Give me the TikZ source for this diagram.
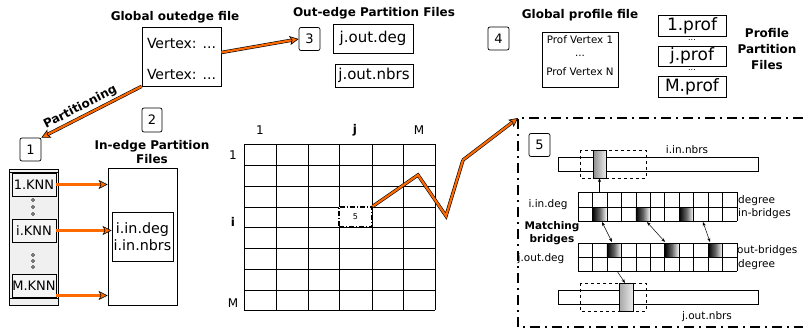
\documentclass[tikz,border=0pt]{standalone}
\usepackage{fontspec}
\setmainfont{DejaVu Sans}
\usetikzlibrary{arrows.meta,calc}
\definecolor{org}{HTML}{FF6A00}
\begin{document}
\begin{tikzpicture}[x=1pt,y=-1pt,
  box/.style={draw, line width=0.7pt, inner sep=0pt, fill=white},
  numbox/.style={draw, line width=0.7pt, rounded corners=2pt, inner sep=0pt, minimum width=21pt, minimum height=23pt, font=\fontsize{13}{13}\selectfont},
  title/.style={font=\fontsize{12}{14}\selectfont\bfseries, align=center, inner sep=0pt},
  txt/.style={inner sep=0pt},
  oarrow/.style={line width=0.6pt, double=org, double distance=2.2pt, -{Stealth[length=9pt,width=9pt,inset=2pt,color=black,fill=org,line width=0.6pt]}},
  oline/.style={line width=0.6pt, double=org, double distance=2.2pt},
  sm/.style={font=\fontsize{10.5}{12}\selectfont, inner sep=0pt},
  dd/.style={line width=2pt, dash pattern=on 10pt off 5pt on 2pt off 5pt},
  tiparrow/.style={-{Stealth[length=4pt,width=3pt]}, line width=0.5pt},
  bitiparrow/.style={{Stealth[length=4pt,width=3pt]}-{Stealth[length=4pt,width=3pt]}, line width=0.5pt},
]
\useasboundingbox (0,0) rectangle (803,329);

% ---------- Global outedge file ----------
\node[title] (tgout) at (175,17) {Global outedge file};
\node[box, minimum width=79pt, minimum height=59pt] (gout) at (181.5,56.5) {};
\node[txt, font=\fontsize{14}{14}\selectfont] (v1) at (181.5,43) {Vertex: ...};
\node[txt, font=\fontsize{14}{14}\selectfont] (v2) at (181.5,74) {Vertex: ...};

% ---------- Out-edge partition files ----------
\node[title] (tout) at (374,13) {Out-edge Partition Files};
\node[numbox] (n3) at (309.5,39) {3};
\node[box, minimum width=80pt, minimum height=29pt, font=\fontsize{15}{15}\selectfont] (jod) at (373,38.5) {j.out.deg};
\node[box, minimum width=78pt, minimum height=23pt, font=\fontsize{15}{15}\selectfont] (jon) at (374,75.5) {j.out.nbrs};

% ---------- Global profile file ----------
\node[title] (tprof) at (580,15) {Global profile file};
\node[numbox] (n4) at (498.5,38.5) {4};
\node[box, minimum width=76pt, minimum height=55pt] (gprof) at (580,59.5) {};
\node[txt, font=\fontsize{10.3}{10}\selectfont] (p1) at (580,40) {Prof Vertex 1};
\node[txt, font=\fontsize{10.3}{10}\selectfont] (p2) at (580,56) {...};
\node[txt, font=\fontsize{10.3}{10}\selectfont] (p3) at (580,72) {Prof Vertex N};

% ---------- Profile partition files ----------
\node[box, minimum width=68pt, minimum height=21pt, font=\fontsize{17}{17}\selectfont] (pr1) at (692,25.5) {1.prof};
\node[txt, font=\fontsize{8}{8}\selectfont] (pd1) at (692,40) {...};
\node[box, minimum width=68pt, minimum height=20pt, font=\fontsize{17}{17}\selectfont] (prj) at (692,56) {j.prof};
\node[txt, font=\fontsize{8}{8}\selectfont] (pd2) at (692,70) {...};
\node[box, minimum width=68pt, minimum height=21pt, font=\fontsize{17}{17}\selectfont] (prM) at (692,86.5) {M.prof};
\node[title, font=\fontsize{12}{16}\selectfont\bfseries] (tpp) at (767,49) {Profile\\Partition\\Files};

% ---------- Partitioning ----------
\node[numbox] (n1) at (30.5,149.5) {1};
\node[numbox, minimum width=20pt, minimum height=24pt] (n2) at (152,120) {2};
\draw[oarrow] (gout.south west) -- (n1.north east)
  node[pos=0.57, sloped, above=3pt, font=\fontsize{12}{12}\selectfont\bfseries, inner sep=0pt] (tpart) {Partitioning};
\draw[oarrow] (gout.east) ++(0,-4) coordinate (goe) -- (n3.west);

% ---------- KNN column ----------
\node[draw, line width=0.7pt, fill=black!6, minimum width=49pt, minimum height=136pt, inner sep=0pt] (knn) at (33.5,237) {};
\draw[line width=0.5pt] (9,298) -- (58,298);
\draw[line width=0.5pt] (9,172) -- (58,172);
\node[box, fill=black!4, minimum width=44pt, minimum height=23pt, font=\fontsize{13}{13}\selectfont] (k1) at (34,184.5) {1.KNN};
\node[box, fill=black!4, minimum width=44pt, minimum height=23pt, font=\fontsize{13}{13}\selectfont] (ki) at (34,230.5) {i.KNN};
\node[box, fill=black!4, minimum width=44pt, minimum height=23pt, font=\fontsize{13}{13}\selectfont] (kM) at (34,285.5) {M.KNN};
\foreach \yy in {200,207,214,255,261,267} \draw[line width=0.5pt] (33,\yy) circle (1.6pt);

% ---------- In-edge partition files ----------
\node[title] (tin) at (152,152) {In-edge Partition\\Files};
\node[draw, line width=0.7pt, minimum width=69pt, minimum height=137pt, inner sep=0pt] (inp) at (142.5,236.5) {};
\node[box, minimum width=61pt, minimum height=49pt, align=center, font=\fontsize{14.3}{17}\selectfont] (inn) at (142.5,236.5) {i.in.deg\\i.in.nbrs};
\draw[oarrow] (k1.east) -- (k1.east -| inp.west);
\draw[oarrow] (ki.east) -- (ki.east -| inn.west);
\draw[oarrow] (kM.east) ++(0,10) coordinate (kme) -- (kme -| inp.west);

% ---------- Matrix ----------
\foreach \xx in {244,276,308,339,372,403,435} \draw[line width=0.8pt] (\xx,144) -- (\xx,310);
\foreach \yy in {144,165,186,207,227,248,269,290,310} \draw[line width=0.8pt] (244,\yy) -- (435,\yy);
\node[txt, font=\fontsize{12}{12}\selectfont] (c1) at (260,130) {1};
\node[txt, font=\fontsize{12}{12}\selectfont\bfseries] (cj) at (355,130) {j};
\node[txt, font=\fontsize{12}{12}\selectfont] (cM) at (419,130) {M};
\node[txt, font=\fontsize{12}{12}\selectfont] (r1) at (233,155) {1};
\node[txt, font=\fontsize{12}{12}\selectfont\bfseries] (ri) at (233,222) {i};
\node[txt, font=\fontsize{12}{12}\selectfont] (rM) at (233,303) {M};
\node[draw, fill=white, line width=1.1pt, dash pattern=on 5pt off 2pt on 1pt off 2pt, minimum width=33pt, minimum height=20pt, inner sep=0pt, font=\fontsize{8}{8}\selectfont] (c5) at (355.5,217) {5};

% ---------- Detail panel ----------
\coordinate (dtl) at (518,118);
\draw[dd] (803,118) -- (dtl) -- (518,327) -- (803,327);
\draw[oline] (c5.north east) -- (418,175) -- (446,216) -- (463,160) coordinate (zz);
\draw[oarrow] (zz) -- (dtl);
\node[numbox] (n5) at (539.5,145) {5};

% i.in.nbrs bar
\node[draw, line width=0.6pt, minimum width=200pt, minimum height=14pt, inner sep=0pt] (iinb) at (658,164) {};
\node[sm] (liinb) at (687,150) {i.in.nbrs};
\draw[line width=0.8pt, dashed] (580,150) rectangle (646,178);
\shade[left color=black!45, right color=black!8] (593,150) rectangle (606,178);
\draw[line width=0.6pt] (593,150) rectangle (606,178);
\coordinate (gin) at (599.5,178);

% j.out.nbrs bar
\node[draw, line width=0.6pt, minimum width=200pt, minimum height=14pt, inner sep=0pt] (jonb) at (658,297) {};
\node[sm] (ljonb) at (707,317) {j.out.nbrs};
\draw[line width=0.8pt, dashed] (580,283) rectangle (646,311);
\shade[left color=black!35, right color=black!8] (619,283) rectangle (633,311);
\draw[line width=0.6pt] (619,283) rectangle (633,311);
\coordinate (gout2) at (625,283);

% grids
\def\cw{14.45}
\foreach \c in {1,4,7} {
  \shade[left color=black, right color=white, middle color=black!60] ({578+\c*\cw},207) rectangle ({578+(\c+1)*\cw},221);
}
\foreach \c in {2,6,9} {
  \shade[left color=black, right color=white, middle color=black!60] ({578+\c*\cw},243) rectangle ({578+(\c+1)*\cw},257);
}
\foreach \c in {0,...,11} {
  \draw[line width=0.6pt] ({578+\c*\cw},192) -- ({578+\c*\cw},221);
  \draw[line width=0.6pt] ({578+\c*\cw},243) -- ({578+\c*\cw},271);
}
\foreach \yy in {192,207,221,243,257,271} \draw[line width=0.6pt] (578,\yy) -- (737,\yy);
\coordinate (gtop) at (599.5,192);
\coordinate (gbot) at (617,271);

\node[sm, anchor=west] (ldeg1) at (738,201) {degree};
\node[sm, anchor=west] (linb) at (738,214) {in-bridges};
\node[sm, anchor=west] (loutb) at (737,251) {out-bridges};
\node[sm, anchor=west] (ldeg2) at (738,265) {degree};
\node[sm] (liid) at (548,205) {i.in.deg};
\node[sm] (ljod) at (541,259) {j.out.deg};
\node[sm, font=\fontsize{10.5}{13}\selectfont\bfseries, align=center] (lmb) at (552,233) {Matching\\bridges};

\draw[tiparrow] (gtop) -- (gin);
\draw[tiparrow] (gbot) -- (gout2);
\coordinate (a1) at (602,222); \coordinate (b1) at (612,242);
\coordinate (a2) at (647,222); \coordinate (b2) at (665,242);
\coordinate (a3) at (703,222); \coordinate (b3) at (710,242);
\draw[bitiparrow] (a1) -- (b1);
\draw[bitiparrow] (a2) -- (b2);
\draw[bitiparrow] (a3) -- (b3);
\end{tikzpicture}
\end{document}
